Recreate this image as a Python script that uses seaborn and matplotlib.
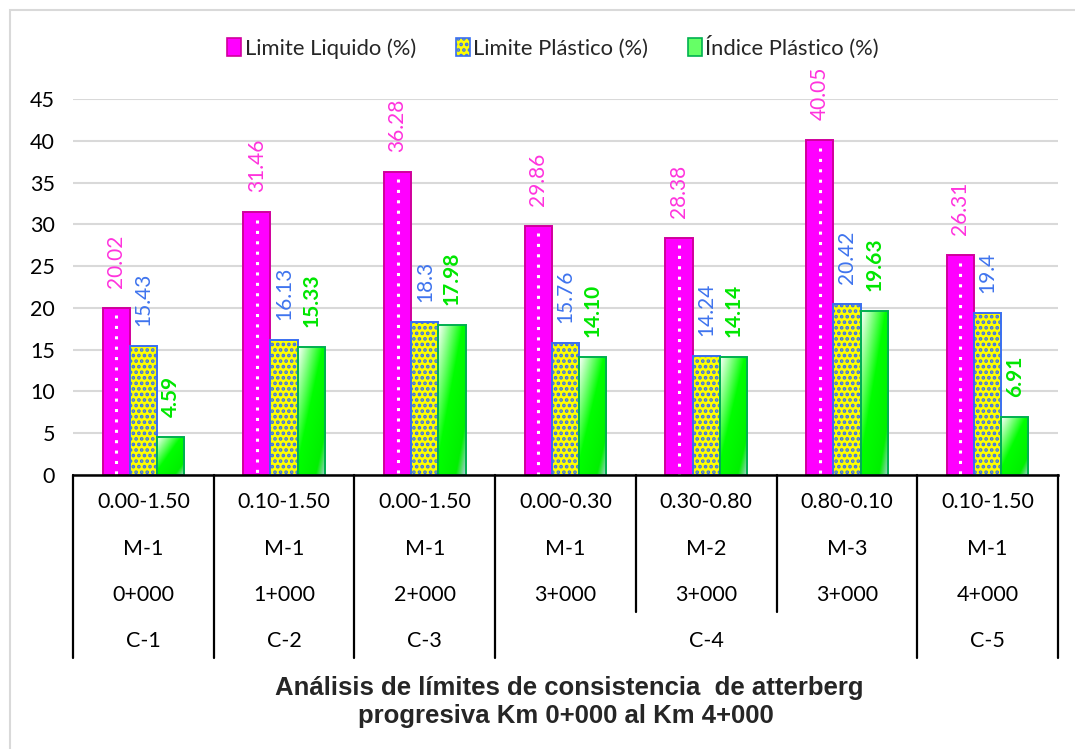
import numpy as np
import pandas as pd
import matplotlib
matplotlib.use("Agg")
import matplotlib.pyplot as plt
from matplotlib.patches import Patch, Rectangle
from matplotlib.lines import Line2D
from matplotlib.colors import LinearSegmentedColormap
import seaborn as sns

# ---- data -------------------------------------------------------------
calicata = ["C-1", "C-2", "C-3", "C-4", "C-4", "C-4", "C-5"]
progresiva = ["0+000", "1+000", "2+000", "3+000", "3+000", "3+000", "4+000"]
muestra = ["M-1", "M-1", "M-1", "M-1", "M-2", "M-3", "M-1"]
profundidad = ["0.00-1.50", "0.10-1.50", "0.00-1.50", "0.00-0.30",
               "0.30-0.80", "0.80-0.10", "0.10-1.50"]

limite_liquido = [20.02, 31.46, 36.28, 29.86, 28.38, 40.05, 26.31]
limite_plastico = [15.43, 16.13, 18.3, 15.76, 14.24, 20.42, 19.4]
indice_plastico = [4.59, 15.33, 17.98, 14.10, 14.14, 19.63, 6.91]

series = ["Limite Liquido (%)", "Limite Plástico (%)", "Índice Plástico (%)"]
y_ticks = [0, 5, 10, 15, 20, 25, 30, 35, 40, 45]

# ---- long-form table ---------------------------------------------------
keys = [f"{c}|{p}|{m}|{d}" for c, p, m, d in
        zip(calicata, progresiva, muestra, profundidad)]
df = pd.DataFrame({
    "muestra": keys * 3,
    "serie": np.repeat(series, len(keys)),
    "valor": limite_liquido + limite_plastico + indice_plastico,
})

# ---- figure ---------------------------------------------------------------
sns.set_theme(style="white")
plt.rcParams["font.family"] = ["Lato", "DejaVu Sans"]
plt.rcParams["hatch.linewidth"] = 1.8

W, H = 1075, 749
fig = plt.figure(figsize=(W / 100, H / 100), dpi=100)
ax_left, ax_right, ax_top, ax_bottom = 73, 1058, 99, 475
ax = fig.add_axes([ax_left / W, (H - ax_bottom) / H,
                   (ax_right - ax_left) / W, (ax_bottom - ax_top) / H])

# outer chart frame (only its top and left edges fall inside the canvas)
fig.add_artist(Rectangle((10 / W, -0.1), 1.2, 1.1 - 10 / H,
                         transform=fig.transFigure, fill=False,
                         edgecolor="#D9D9D9", linewidth=1.5, zorder=0))

face = {series[0]: "#FF00FF", series[1]: "#FFFF00", series[2]: "#00FF00"}
sns.barplot(data=df, x="muestra", y="valor", hue="serie", order=keys,
            hue_order=series, palette=face, width=0.58, saturation=1,
            legend=False, ax=ax, zorder=2)

n = len(keys)
c_ll, c_lp, c_ip = ax.containers[0], ax.containers[1], ax.containers[2]

# Limite Liquido: magenta with a white dotted centre line
for bar in c_ll:
    bar.set_edgecolor("#D0009C")
    bar.set_linewidth(1.4)
    cx = bar.get_x() + bar.get_width() / 2
    top = bar.get_height()
    ax.add_line(Line2D([cx, cx], [top - 0.9, 0], color="white",
                       linewidth=2.2, linestyle=(0, (1, 2.4)),
                       dash_capstyle="butt", zorder=2.5))

# Limite Plástico: yellow with blue dots
for bar in c_lp:
    bar.set_edgecolor("#3A6FF0")
    bar.set_linewidth(1.4)
    bar.set_hatch("...")

# Índice Plástico: diagonal white -> green -> blue-grey gradient
grad_cmap = LinearSegmentedColormap.from_list(
    "ip", [(0.0, "#FFFFFF"), (0.45, "#00FF00"), (0.82, "#00F000"),
           (1.0, "#B4C7E7")])
u = np.linspace(0, 1, 60)[None, :]
v = np.linspace(0, 1, 200)[:, None]
t = (u + (1 - v)) / 2
for bar in c_ip:
    x0, y0 = bar.get_x(), bar.get_y()
    w, h = bar.get_width(), bar.get_height()
    im = ax.imshow(t, cmap=grad_cmap, vmin=0, vmax=1, origin="lower",
                   extent=(x0, x0 + w, y0, y0 + h), aspect="auto",
                   interpolation="bilinear", zorder=1.9)
    im.set_clip_path(bar)
    bar.set_facecolor("none")
    bar.set_edgecolor("#00B050")
    bar.set_linewidth(1.4)

ax.set_xlim(-0.5, n - 0.5)
ax.set_ylim(0, 45)
ax.set_aspect("auto")

# value labels
label_style = [
    (c_ll, limite_liquido, "#FF33DD", "normal", "{:g}"),
    (c_lp, limite_plastico, "#3F74EE", "normal", "{:g}"),
    (c_ip, indice_plastico, "#00E600", "bold", "{:.2f}"),
]
for cont, vals, col, weight, fmt in label_style:
    for bar, val in zip(cont, vals):
        ax.annotate(fmt.format(val),
                    (bar.get_x() + bar.get_width() / 2, val),
                    xytext=(0, 20), textcoords="offset pixels",
                    rotation=90, ha="center", va="bottom", color=col,
                    fontsize=15, fontweight=weight, annotation_clip=False)

# axes styling
ax.set_yticks(y_ticks)
ax.set_yticklabels([str(v) for v in y_ticks])
ax.tick_params(axis="y", length=0, pad=13, labelsize=15.5, labelcolor="#000000")
ax.tick_params(axis="x", length=0)
ax.set_xticks(range(n))
ax.set_xticklabels([])
ax.set_xlabel("")
ax.set_ylabel("")
ax.set_axisbelow(True)
ax.yaxis.grid(True, color="#D9D9D9", linewidth=1.5)
ax.xaxis.grid(False)
for side in ["left", "right", "top"]:
    ax.spines[side].set_visible(False)
ax.spines["bottom"].set_color("black")
ax.spines["bottom"].set_linewidth(1.8)
ax.spines["bottom"].set_zorder(3)

# multi-level category axis
def frac(py):
    return (ax_bottom - py) / (ax_bottom - ax_top)

tx = ax.get_xaxis_transform()
row_centres = [502, 549, 595, 641]
levels = [profundidad, muestra, progresiva]
for level, yc in zip(levels, row_centres[:3]):
    for i, lab in enumerate(level):
        ax.text(i, frac(yc), lab, transform=tx, ha="center", va="center",
                fontsize=15.5, color="black", clip_on=False)

# outer level: merge runs of the same calicata
start = 0
for i in range(1, n + 1):
    if i == n or calicata[i] != calicata[start]:
        centre = (start + i - 1) / 2
        ax.text(centre, frac(row_centres[3]), calicata[start], transform=tx,
                ha="center", va="center", fontsize=15.5, color="black",
                clip_on=False)
        start = i

# separators between categories
y_full_end, y_part_end = 658, 612
for k in range(n + 1):
    xb = k - 0.5
    if k == 0 or k == n or calicata[k] != calicata[k - 1]:
        end = y_full_end
    else:
        end = y_part_end
    ax.add_line(Line2D([xb, xb], [0, frac(end)], transform=tx, color="black",
                       linewidth=1.6, clip_on=False, zorder=3))

# legend
handles = [
    Patch(facecolor="#FF00FF", edgecolor="#D0009C", linewidth=1.2),
    Patch(facecolor="#FFFF00", edgecolor="#3A6FF0", linewidth=1.2, hatch="..."),
    Patch(facecolor="#66FF66", edgecolor="#00B050", linewidth=1.2),
]
fig.legend(handles, series, loc="center", bbox_to_anchor=(553 / W, 1 - 47 / H),
           ncol=3, frameon=False, fontsize=15.8, handlelength=0.65,
           handleheight=0.85, handletextpad=0.15, columnspacing=1.8)

# caption
caption_font = dict(ha="center", va="center", fontsize=18.5, fontweight="bold",
                    family=["Liberation Sans", "DejaVu Sans"])
fig.text(569 / W, 1 - 688 / H,
         "Análisis de límites de consistencia  de atterberg", **caption_font)
fig.text(566 / W, 1 - 716 / H, "progresiva Km 0+000 al Km 4+000",
         **caption_font)

fig.savefig("out.png", dpi=100)
